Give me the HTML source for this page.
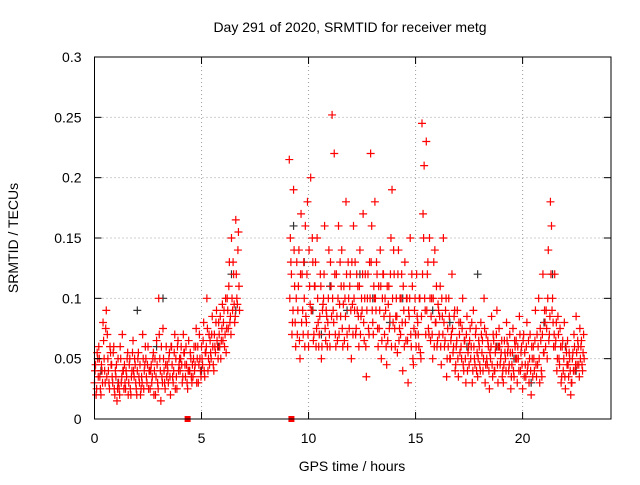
<!DOCTYPE html>
<html><head><meta charset="utf-8"><style>
body{margin:0;background:#fff;}
svg text{font-family:"Liberation Sans",sans-serif;font-size:14px;fill:#000;}
</style></head><body>
<svg id="chart" width="640" height="480" xmlns="http://www.w3.org/2000/svg">
<rect width="640" height="480" fill="#fff"/>
<g id="grid"></g>
<g id="marks"></g>
<g id="axes"></g>
<text x="350" y="32" text-anchor="middle">Day 291 of 2020, SRMTID for receiver metg</text>
<text transform="translate(18,238) rotate(-90)" text-anchor="middle">SRMTID / TECUs</text>
<text x="352" y="471" text-anchor="middle">GPS time / hours</text>
</svg>
<script>
const xTicks=[0,5,10,15,20];
const yTicks=[0,0.05,0.1,0.15,0.2,0.25,0.3];
const yTickLabels=["0","0.05","0.1","0.15","0.2","0.25","0.3"];
const redHours=[0,0.2,0.4,0.6,0.8,1.0,1.2,1.4,1.6,1.8,2.0,2.2,2.4,2.6,2.8,3.0,3.2,3.4,3.6,3.8,4.0,4.2,4.4,4.6,4.8,5.0,5.2,5.4,5.6,5.8,6.0,6.2,6.4,6.6,
9.1,9.3,9.5,9.7,9.9,10.1,10.3,10.5,10.7,10.9,11.1,11.3,11.5,11.7,11.9,12.1,12.3,12.5,12.7,12.9,13.1,13.3,13.5,13.7,13.9,14.1,14.3,14.5,14.7,14.9,15.1,15.3,15.5,15.7,15.9,16.1,16.3,16.5,16.7,16.9,17.1,17.3,17.5,17.7,17.9,18.1,18.3,18.5,18.7,18.9,19.1,19.3,19.5,19.7,19.9,20.1,20.3,20.5,20.7,20.9,21.1,21.3,21.5,21.7,21.9,22.1,22.3,22.5,22.7];
const redVals=[
[.03,.045,.025,.05],[.06,.035,.02,.04],[.08,.05,.03,.09],[.07,.04,.025,.055],[.045,.03,.06,.02],[.035,.015,.05,.025],[.06,.03,.07,.04],[.045,.025,.035,.055],[.03,.05,.02,.04],[.065,.035,.045,.025],
[.04,.055,.03,.02],[.035,.07,.025,.045],[.05,.03,.06,.04],[.025,.045,.035,.055],[.04,.02,.065,.03],[.1,.05,.015,.035],[.075,.04,.025,.06],[.045,.03,.055,.02],[.06,.035,.04,.07],[.05,.025,.065,.045],
[.04,.06,.03,.07],[.055,.035,.045,.025],[.065,.04,.05,.03],[.035,.06,.045,.075],[.05,.03,.07,.04],[.06,.045,.08,.035],[.055,.1,.04,.07],[.065,.05,.085,.045],[.07,.055,.09,.06],[.08,.06,.05,.075],
[.065,.09,.07,.055],[.1,.075,.13,.085],[.15,.09,.12,.08],[.165,.1,.14,.11],
[.215,.15,.12,.08],[.19,.11,.06,.13],[.09,.14,.05,.17],[.12,.07,.1,.16],[.08,.18,.06,.11],[.2,.09,.13,.07],[.11,.06,.15,.08],[.07,.12,.05,.09],[.1,.16,.065,.085],[.08,.14,.06,.11],
[.252,.09,.22,.07],[.12,.065,.16,.095],[.085,.14,.06,.11],[.1,.18,.07,.13],[.075,.12,.05,.095],[.16,.09,.07,.12],[.11,.06,.14,.085],[.09,.17,.065,.12],[.035,.1,.075,.13],[.22,.16,.08,.11],
[.18,.09,.12,.06],[.075,.14,.05,.1],[.12,.07,.09,.045],[.065,.11,.085,.15],[.19,.08,.12,.06],[.1,.055,.14,.075],[.07,.12,.04,.09],[.13,.065,.1,.03],[.085,.15,.06,.11],[.045,.09,.07,.12],
[.08,.06,.1,.05],[.245,.17,.21,.09],[.23,.12,.075,.15],[.065,.1,.05,.13],[.14,.08,.06,.095],[.07,.11,.045,.085],[.15,.06,.09,.035],[.075,.1,.05,.065],[.12,.055,.085,.04],[.06,.09,.035,.07],
[.08,.05,.1,.04],[.065,.03,.085,.055],[.045,.075,.06,.03],[.09,.05,.07,.04],[.035,.065,.045,.08],[.055,.04,.1,.03],[.07,.045,.06,.025],[.05,.085,.035,.065],[.04,.06,.09,.03],[.075,.045,.055,.035],
[.03,.065,.05,.08],[.055,.04,.07,.025],[.045,.075,.035,.06],[.065,.03,.05,.085],[.04,.06,.025,.07],[.055,.035,.08,.045],[.03,.07,.02,.05],[.06,.04,.09,.035],[.045,.1,.03,.065],[.035,.12,.055,.08],
[.09,.05,.14,.07],[.18,.16,.1,.06],[.12,.065,.04,.085],[.05,.075,.03,.06],[.04,.08,.025,.055],[.065,.035,.05,.02],[.03,.055,.07,.04],[.085,.045,.06,.035],[.05,.065,.04,.07]];
const redVals2=[
[.04,.02,.055,.035],[.05,.025,.045,.03],[.065,.04,.075,.035],[.05,.03,.06,.045],[.035,.055,.025,.04],[.045,.025,.03,.02],[.05,.035,.04,.025],[.03,.04,.05,.02],[.045,.025,.035,.055],[.04,.05,.03,.02],
[.05,.035,.045,.025],[.03,.05,.04,.06],[.035,.045,.025,.04],[.04,.03,.05,.02],[.05,.035,.045,.025],[.07,.04,.06,.03],[.05,.03,.045,.035],[.04,.05,.035,.06],[.045,.03,.055,.025],[.035,.06,.04,.05],
[.05,.045,.035,.055],[.045,.06,.03,.04],[.04,.055,.035,.045],[.05,.04,.06,.03],[.06,.045,.05,.035],[.05,.065,.04,.055],[.06,.075,.05,.045],[.055,.07,.06,.04],[.06,.08,.065,.05],[.07,.085,.065,.095],
[.08,.06,.1,.075],[.09,.11,.08,.07],[.1,.13,.095,.085],[.12,.095,.155,.09],
[.1,.13,.07,.09],[.14,.08,.1,.07],[.11,.065,.12,.08],[.09,.13,.06,.085],[.12,.07,.14,.095],[.09,.15,.065,.11],[.13,.075,.1,.06],[.085,.11,.06,.095],[.12,.075,.09,.06],[.1,.07,.13,.085],
[.1,.08,.12,.06],[.085,.1,.07,.13],[.11,.075,.095,.065],[.085,.12,.06,.1],[.11,.09,.13,.07],[.1,.13,.075,.09],[.085,.11,.07,.1],[.12,.08,.1,.06],[.09,.12,.07,.1],[.13,.09,.07,.1],
[.1,.13,.075,.11],[.09,.11,.065,.12],[.085,.1,.06,.11],[.095,.075,.12,.06],[.1,.14,.075,.085],[.085,.12,.065,.1],[.1,.08,.11,.06],[.08,.1,.065,.09],[.1,.07,.12,.05],[.075,.1,.06,.085],
[.07,.1,.055,.085],[.12,.15,.1,.07],[.09,.13,.07,.1],[.085,.07,.1,.06],[.08,.11,.065,.09],[.085,.06,.1,.07],[.08,.065,.1,.05],[.06,.085,.05,.07],[.075,.06,.09,.045],[.065,.05,.08,.055],
[.06,.075,.045,.065],[.05,.07,.04,.06],[.065,.05,.08,.04],[.06,.045,.075,.055],[.05,.06,.04,.07],[.065,.05,.075,.045],[.05,.065,.04,.055],[.06,.045,.07,.04],[.055,.07,.045,.06],[.06,.05,.065,.04],
[.045,.055,.04,.065],[.06,.045,.055,.035],[.055,.04,.065,.05],[.05,.06,.04,.07],[.055,.045,.065,.035],[.045,.06,.04,.065],[.05,.04,.06,.035],[.05,.065,.045,.07],[.06,.05,.075,.04],[.07,.055,.09,.06],
[.075,.1,.065,.085],[.12,.09,.08,.07],[.06,.08,.05,.07],[.045,.06,.035,.065],[.05,.035,.06,.045],[.045,.055,.04,.03],[.05,.04,.06,.045],[.055,.065,.045,.075],[.06,.045,.055,.05]];
const blackHours=[0.3,1.1,2.0,2.9,3.2,4.0,5.0,5.8,6.4,6.6,9.3,9.8,10.2,10.6,11.0,11.8,12.4,13.0,13.8,14.4,15.0,15.8,16.6,17.4,17.9,18.8,19.6,20.4,21.0,21.4,22.0,22.5];
const blackVals=[.04,.03,.09,.06,.1,.05,.04,.06,.12,.09,.16,.13,.09,.07,.11,.09,.12,.1,.08,.1,.07,.09,.08,.06,.12,.06,.05,.03,.08,.12,.06,.04];
const zeroHours=[4.35,9.2];
const zeroVals=[0,0];

const X0=94.5,X1=611,Y0=419,Y1=57,XMAX=24.13,YMAX=0.3;
const xs=v=>X0+v/XMAX*(X1-X0);
const ys=v=>Y0-v/YMAX*(Y0-Y1);
const NS="http://www.w3.org/2000/svg";
function mk(tag,attrs,parent){const e=document.createElementNS(NS,tag);for(const k in attrs)e.setAttribute(k,attrs[k]);parent.appendChild(e);return e;}
const grid=document.getElementById('grid'),axes=document.getElementById('axes'),marks=document.getElementById('marks');
yTicks.forEach((t,i)=>{
  const y=ys(t);
  if(t>0&&t<YMAX){const g=mk('line',{x1:X0,x2:X1,y1:y,y2:y,stroke:'#a0a0a0','stroke-dasharray':'1,3'},grid);
  
  }
  mk('line',{x1:X0,x2:X0+7,y1:y,y2:y,stroke:'#000'},axes);
  mk('line',{x1:X1,x2:X1-7,y1:y,y2:y,stroke:'#000'},axes);
  const l=mk('text',{x:X0-13,y:y+5,'text-anchor':'end'},axes);l.textContent=yTickLabels[i];
  
  
});
xTicks.forEach(t=>{
  const x=xs(t);
  if(t>0){const g=mk('line',{x1:x,x2:x,y1:Y0,y2:Y1,stroke:'#a0a0a0','stroke-dasharray':'1,3'},grid);
  
  }
  mk('line',{x1:x,x2:x,y1:Y0,y2:Y0-7,stroke:'#000'},axes);
  mk('line',{x1:x,x2:x,y1:Y1,y2:Y1+7,stroke:'#000'},axes);
  const l=mk('text',{x:x,y:Y0+24,'text-anchor':'middle'},axes);l.textContent=String(t);
  
  
});
const fr=mk('rect',{x:X0,y:Y1,width:X1-X0,height:Y0-Y1,fill:'none',stroke:'#000'},axes);


function cross(h,v,col){
  const x=xs(h),y=ys(v);
  const p=mk('path',{d:`M${x-4},${y}h8M${x},${y-4}v8`,stroke:col,'stroke-width':1.2,fill:'none'},marks);
  
  
}
blackHours.forEach((h,i)=>cross(h,blackVals[i],'#333'));
redHours.forEach((h,i)=>redVals[i].forEach((v,k)=>cross(h+k*0.05,v,'#ff0000')));
redHours.forEach((h,i)=>redVals2[i].forEach((v,k)=>cross(h+0.025+k*0.05,v,'#ff0000')));
zeroHours.forEach((h,i)=>{
  const r=mk('rect',{x:xs(h)-3,y:ys(zeroVals[i])-3,width:6,height:6,fill:'#ff0000'},marks);
  
  
});
</script>
</body></html>
